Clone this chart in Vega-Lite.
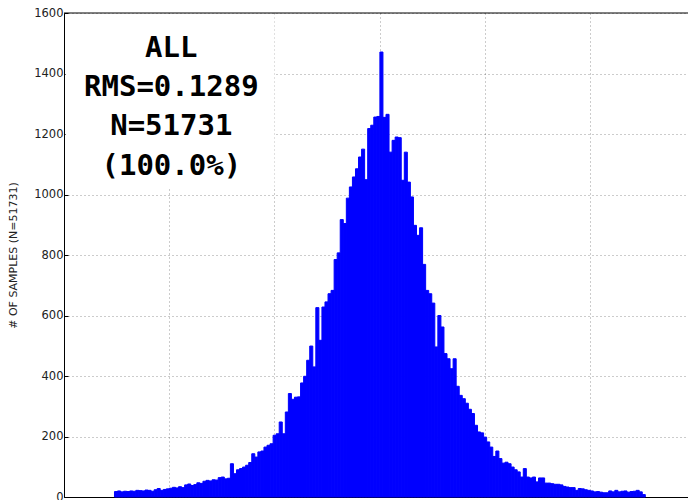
{
  "$schema": "https://vega.github.io/schema/vega-lite/v6.json",
  "width": 624,
  "height": 484,
  "autosize": {"type": "none"},
  "padding": {"left": 64, "top": 13, "right": 0, "bottom": 3},
  "background": "white",
  "config": {"view": {"stroke": null}, "font": "DejaVu Sans"},
  "layer": [
    {
      "data": {"values": [
        {"x":-0.505,"n":18},{"x":-0.4992,"n":20},{"x":-0.4934,"n":17},{"x":-0.4876,"n":19},{"x":-0.4818,"n":18},
        {"x":-0.476,"n":20},{"x":-0.4702,"n":19},{"x":-0.4644,"n":22},{"x":-0.4586,"n":21},{"x":-0.4528,"n":20},
        {"x":-0.447,"n":23},{"x":-0.4412,"n":22},{"x":-0.4354,"n":19},{"x":-0.4296,"n":24},{"x":-0.4238,"n":28},
        {"x":-0.418,"n":22},{"x":-0.4122,"n":25},{"x":-0.4064,"n":27},{"x":-0.4006,"n":29},{"x":-0.3948,"n":32},
        {"x":-0.389,"n":30},{"x":-0.3832,"n":34},{"x":-0.3774,"n":31},{"x":-0.3716,"n":40},{"x":-0.3658,"n":43},
        {"x":-0.36,"n":38},{"x":-0.3542,"n":41},{"x":-0.3484,"n":47},{"x":-0.3426,"n":45},{"x":-0.3368,"n":52},
        {"x":-0.331,"n":55},{"x":-0.3252,"n":53},{"x":-0.3194,"n":57},{"x":-0.3136,"n":56},{"x":-0.3078,"n":64},
        {"x":-0.302,"n":66},{"x":-0.2962,"n":60},{"x":-0.2904,"n":62},{"x":-0.2846,"n":110},{"x":-0.2788,"n":77},
        {"x":-0.273,"n":90},{"x":-0.2672,"n":94},{"x":-0.2614,"n":99},{"x":-0.2556,"n":105},{"x":-0.2498,"n":114},
        {"x":-0.244,"n":143},{"x":-0.2382,"n":132},{"x":-0.2324,"n":149},{"x":-0.2266,"n":152},{"x":-0.2208,"n":165},
        {"x":-0.215,"n":171},{"x":-0.2092,"n":176},{"x":-0.2034,"n":204},{"x":-0.1976,"n":209},{"x":-0.1918,"n":248},
        {"x":-0.186,"n":209},{"x":-0.1802,"n":281},{"x":-0.1744,"n":342},{"x":-0.1686,"n":323},{"x":-0.1628,"n":330},
        {"x":-0.157,"n":331},{"x":-0.1512,"n":377},{"x":-0.1454,"n":399},{"x":-0.1396,"n":452},{"x":-0.1338,"n":499},
        {"x":-0.128,"n":430},{"x":-0.1222,"n":626},{"x":-0.1164,"n":518},{"x":-0.1106,"n":628},{"x":-0.1048,"n":645},
        {"x":-0.099,"n":672},{"x":-0.0932,"n":683},{"x":-0.0874,"n":785},{"x":-0.0816,"n":807},{"x":-0.0758,"n":917},
        {"x":-0.07,"n":904},{"x":-0.0642,"n":988},{"x":-0.0584,"n":1025},{"x":-0.0526,"n":1058},{"x":-0.0468,"n":1085},
        {"x":-0.041,"n":1124},{"x":-0.0352,"n":1150},{"x":-0.0294,"n":1049},{"x":-0.0236,"n":1218},{"x":-0.0178,"n":1229},
        {"x":-0.012,"n":1256},{"x":-0.0062,"n":1258},{"x":-0.0004,"n":1471},{"x":0.0054,"n":1255},{"x":0.0112,"n":1265},
        {"x":0.017,"n":1140},{"x":0.0228,"n":1179},{"x":0.0286,"n":1190},{"x":0.0344,"n":1188},{"x":0.0402,"n":1047},
        {"x":0.046,"n":1140},{"x":0.0518,"n":1041},{"x":0.0576,"n":992},{"x":0.0634,"n":898},{"x":0.0692,"n":865},
        {"x":0.075,"n":890},{"x":0.0808,"n":769},{"x":0.0866,"n":683},{"x":0.0924,"n":672},{"x":0.0982,"n":641},
        {"x":0.104,"n":496},{"x":0.1098,"n":600},{"x":0.1156,"n":562},{"x":0.1214,"n":474},{"x":0.1272,"n":457},
        {"x":0.133,"n":424},{"x":0.1388,"n":457},{"x":0.1446,"n":366},{"x":0.1504,"n":336},{"x":0.1562,"n":325},
        {"x":0.162,"n":310},{"x":0.1678,"n":290},{"x":0.1736,"n":276},{"x":0.1794,"n":237},{"x":0.1852,"n":215},
        {"x":0.191,"n":212},{"x":0.1968,"n":198},{"x":0.2026,"n":182},{"x":0.2084,"n":165},{"x":0.2142,"n":134},
        {"x":0.22,"n":152},{"x":0.2258,"n":127},{"x":0.2316,"n":112},{"x":0.2374,"n":115},{"x":0.2432,"n":110},
        {"x":0.249,"n":99},{"x":0.2548,"n":90},{"x":0.2606,"n":83},{"x":0.2664,"n":66},{"x":0.2722,"n":94},
        {"x":0.278,"n":66},{"x":0.2838,"n":63},{"x":0.2896,"n":66},{"x":0.2954,"n":50},{"x":0.3012,"n":63},
        {"x":0.307,"n":63},{"x":0.3128,"n":46},{"x":0.3186,"n":46},{"x":0.3244,"n":44},{"x":0.3302,"n":42},
        {"x":0.336,"n":42},{"x":0.3418,"n":40},{"x":0.3476,"n":35},{"x":0.3534,"n":33},{"x":0.3592,"n":31},
        {"x":0.365,"n":31},{"x":0.3708,"n":22},{"x":0.3766,"n":28},{"x":0.3824,"n":27},{"x":0.3882,"n":24},
        {"x":0.394,"n":22},{"x":0.3998,"n":20},{"x":0.4056,"n":17},{"x":0.4114,"n":18},{"x":0.4172,"n":16},
        {"x":0.423,"n":14},{"x":0.4288,"n":14},{"x":0.4346,"n":20},{"x":0.4404,"n":17},{"x":0.4462,"n":22},
        {"x":0.452,"n":17},{"x":0.4578,"n":19},{"x":0.4636,"n":20},{"x":0.4694,"n":16},{"x":0.4752,"n":18},
        {"x":0.481,"n":19},{"x":0.4868,"n":22},{"x":0.4926,"n":17},{"x":0.4984,"n":8}
      ]},
      "mark": {"type": "bar", "color": "#0000ff", "stroke": "#0000ff", "strokeWidth": 1, "binSpacing": 0},
      "encoding": {
        "x": {
          "field": "x", "type": "quantitative",
          "bin": {"binned": true, "step": 0.0058},
          "scale": {"domain": [-0.6, 0.5863], "nice": false, "zero": false},
          "axis": {
            "orient": "bottom",
            "values": [-0.6, -0.4, -0.2, 0, 0.2, 0.4],
            "labels": false, "title": null,
            "grid": true, "gridColor": "#000000", "gridOpacity": 0.4, "gridDash": [1, 3],
            "tickSize": -4, "tickColor": "black", "domainColor": "black"
          }
        },
        "y": {
          "field": "n", "type": "quantitative",
          "scale": {"domain": [0, 1600], "nice": false},
          "axis": {
            "values": [0, 200, 400, 600, 800, 1000, 1200, 1400, 1600],
            "format": "d",
            "title": "# OF SAMPLES (N=51731)",
            "titleFont": "DejaVu Sans", "titleFontSize": 11, "titleFontWeight": "normal", "titleColor": "#222222",
            "titlePadding": 15,
            "labelFont": "DejaVu Sans", "labelFontSize": 11.5, "labelColor": "#222222", "labelPadding": 5,
            "grid": true, "gridColor": "#000000", "gridOpacity": 0.4, "gridDash": [1, 3],
            "tickSize": -4, "tickColor": "black", "domainColor": "black"
          }
        }
      }
    },
    {
      "data": {"values": [{}]},
      "mark": {"type": "rule", "color": "black", "strokeWidth": 1},
      "encoding": {
        "y": {"datum": 1600, "type": "quantitative"}
      }
    },
    {
      "data": {"values": [{}]},
      "mark": {"type": "rect", "fill": "white"},
      "encoding": {
        "x": {"datum": -0.597, "type": "quantitative"},
        "x2": {"datum": -0.2},
        "y": {"datum": 1025, "type": "quantitative"},
        "y2": {"datum": 1597}
      }
    },
    {
      "data": {"values": [{}]},
      "mark": {
        "type": "text",
        "text": ["ALL", "RMS=0.1289", "N=51731", "(100.0%)"],
        "font": "DejaVu Sans Mono", "fontWeight": "bold", "fontSize": 29,
        "lineHeight": 39.3, "align": "center", "baseline": "alphabetic", "color": "black"
      },
      "encoding": {
        "x": {"datum": -0.396, "type": "quantitative"},
        "y": {"datum": 1455, "type": "quantitative"}
      }
    }
  ]
}
